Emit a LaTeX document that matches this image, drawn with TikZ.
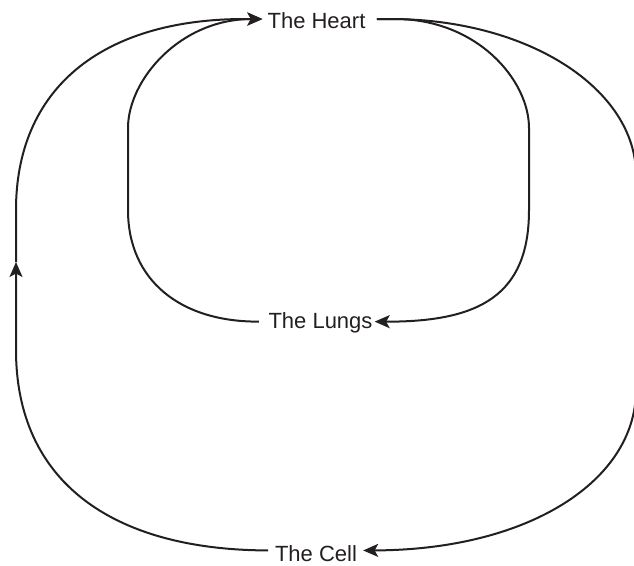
\documentclass[tikz,border=0pt]{standalone}
\usepackage{fontspec}
\setmainfont{Liberation Sans}
\usetikzlibrary{arrows.meta}
\definecolor{ink}{HTML}{231F20}
\begin{document}
\begin{tikzpicture}[x=1pt,y=-1pt,
  lbl/.style={inner sep=0pt, anchor=base, font=\fontsize{22}{26}\selectfont, text=ink},
  flow/.style={draw=ink, line width=2pt, line join=round},
  tip/.style={-{Stealth[length=15pt,width=13pt,inset=3.5pt]}}]
\useasboundingbox (0,0) rectangle (634,565);
\node[lbl] (heart) at (316.5,28.3) {The Heart};
\node[lbl] (lungs) at (320.5,328.3) {The Lungs};
\node[lbl] (cell) at (316,561.5) {The Cell};
\coordinate (heartL) at ([xshift=-5pt,yshift=1.4pt]heart.west);
\coordinate (heartR) at ([xshift=11.3pt,yshift=1.4pt]heart.east);
\coordinate (lungsL) at ([xshift=-9.5pt,yshift=1pt]lungs.west);
\coordinate (lungsR) at ([xshift=2pt,yshift=1pt]lungs.east);
\coordinate (cellL) at ([xshift=-6.7pt,yshift=3.2pt]cell.west);
\coordinate (cellR) at ([xshift=6pt,yshift=3.2pt]cell.east);
\coordinate (up) at (16,262);
% heart -> lungs
\draw[flow,tip] (heartR) -- (395,19) .. controls (477,19) and (529,80) .. (529,128)
  -- (529,210) .. controls (529,295) and (480,322) .. (lungsR);
% heart -> cell
\draw[flow,tip] (heartR) -- (390,19) .. controls (530,19) and (636,90) .. (636,175)
  -- (636,390) .. controls (636,480) and (530,550) .. (cellR);
% lungs -> heart
\draw[flow,tip] (lungsL) .. controls (180,322) and (128,280) .. (128,210)
  -- (128,128) .. controls (128,80) and (180,19) .. (heartL);
% cell -> heart
\draw[flow,tip] (cellL) .. controls (110,550) and (16,480) .. (16,350) -- (up);
\draw[flow,tip] (up) -- (16,210) .. controls (16,90) and (100,19) .. (245,19) -- (heartL);
\end{tikzpicture}
\end{document}
